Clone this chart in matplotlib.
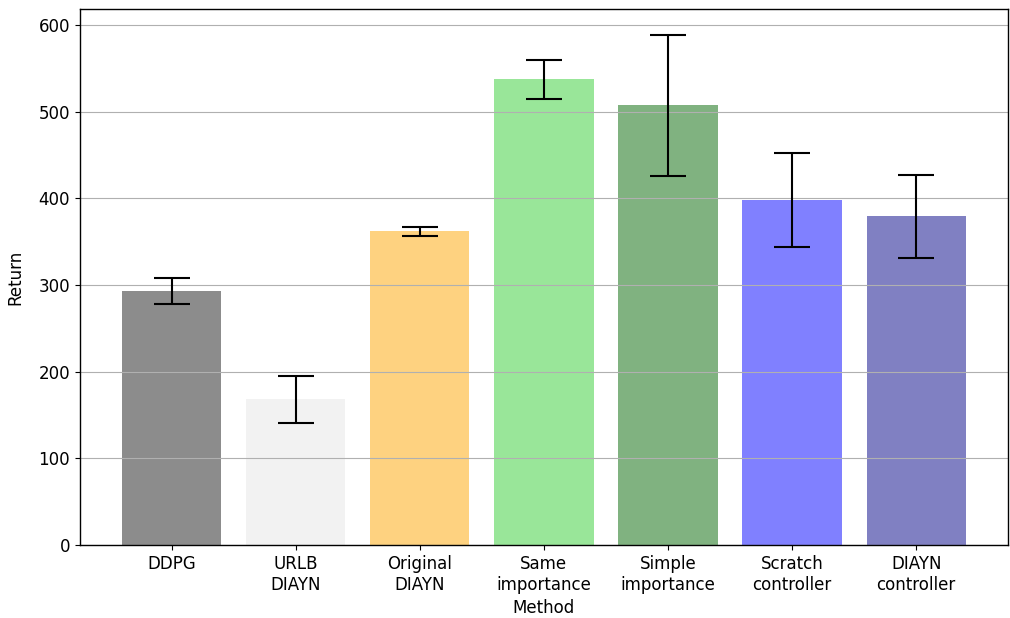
import matplotlib
matplotlib.use('Agg')
import matplotlib.pyplot as plt
import numpy as np

matplotlib.rc('font', size=12)

methods = ['DDPG', 'URLB\nDIAYN', 'Original\nDIAYN', 'Same\nimportance',
           'Simple\nimportance', 'Scratch\ncontroller', 'DIAYN\ncontroller']
returns = [293, 168, 362, 537, 507, 398, 379]
errors = [14.5, 27, 5, 22.5, 81.5, 54, 47.5]
colors = ['#8c8c8c', '#f2f2f2', '#fed280', '#99e699', '#80b280', '#8080ff', '#8080c2']

fig = plt.figure(figsize=(10.1, 6.18), dpi=100)
ax = fig.add_axes([0.079, 0.118, 0.919, 0.867])

x = np.arange(len(methods))
ax.bar(x, returns, width=0.8, color=colors, yerr=errors, capsize=13,
       error_kw={'elinewidth': 1.5, 'capthick': 1.5, 'ecolor': 'black'})
ax.set_xticks(x)
ax.set_xticklabels(methods)
ax.yaxis.grid(True)
for s in ax.spines.values():
    s.set_linewidth(1.0)
ax.set_xlabel('Method')
ax.set_ylabel('Return', labelpad=10)

fig.savefig('out.png', dpi=100)
